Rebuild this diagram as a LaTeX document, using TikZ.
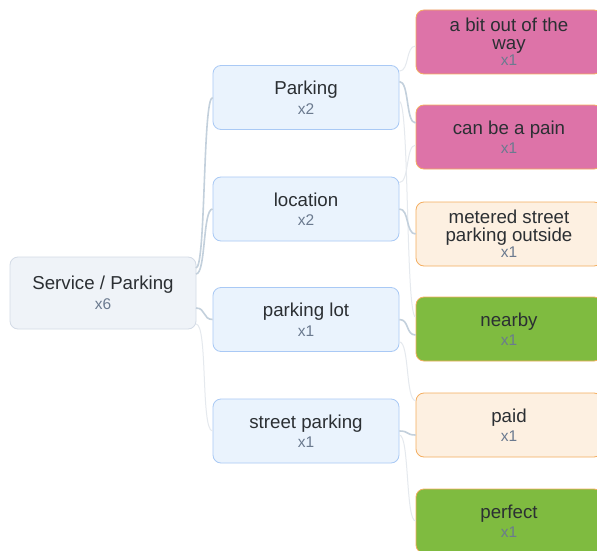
\documentclass[tikz,border=0pt]{standalone}
\usepackage{fontspec}
\setmainfont{Liberation Sans}
\definecolor{txt}{HTML}{2B2F33}
\definecolor{cnt}{HTML}{6B7A8F}
\definecolor{rootfill}{HTML}{EFF3F8}
\definecolor{rootline}{HTML}{D3DBE6}
\definecolor{midfill}{HTML}{EAF3FD}
\definecolor{midline}{HTML}{A9C9F5}
\definecolor{pinkfill}{HTML}{DD73A8}
\definecolor{creamfill}{HTML}{FDF0E1}
\definecolor{greenfill}{HTML}{7FBB40}
\definecolor{orangeline}{HTML}{F4AD5E}
\definecolor{linkdark}{HTML}{C3D0DC}
\definecolor{linkfaint}{HTML}{E5E9EE}
\newcommand{\lblfont}{\fontsize{18.7}{19.5}\selectfont}
\newcommand{\cnt}[1]{{\fontsize{15.5}{17}\selectfont\color{cnt}#1}}
\tikzset{
	box/.style={draw, rounded corners=8pt, minimum width=186pt, minimum height=64pt,
		align=center, inner sep=0pt, text=txt, font=\lblfont, line width=0.8pt},
	rootbox/.style={box, fill=rootfill, draw=rootline, minimum height=72pt},
	midbox/.style={box, fill=midfill, draw=midline},
	pinkbox/.style={box, fill=pinkfill, draw=orangeline},
	creambox/.style={box, fill=creamfill, draw=orangeline},
	greenbox/.style={box, fill=greenfill, draw=orangeline},
	link/.style={draw=linkdark, line width=1.6pt},
	faint/.style={draw=linkfaint, line width=1pt}
}
\begin{document}
\begin{tikzpicture}[x=1pt,y=-1pt]
		\clip (0,0) rectangle (597,551);
		\fill[white] (0,0) rectangle (597,551);
		% links
		\coordinate (r1) at (196,268);
		\coordinate (r2) at (196,274);
		\coordinate (r3) at (196,308);
		\coordinate (r4) at (196,324);
		\node[midbox] (parking) at (306,97.5) {Parking\\[0pt]\cnt{x2}};
		\node[midbox] (location) at (306,209) {location\\[0pt]\cnt{x2}};
		\node[midbox] (lot) at (306,319.5) {parking lot\\[0pt]\cnt{x1}};
		\node[midbox] (street) at (306,431) {street parking\\[0pt]\cnt{x1}};
		\node[pinkbox] (abit) at (509,42) {a bit out of the\\[-2pt]way\\[-3pt]\cnt{x1}};
		\node[pinkbox] (pain) at (509,137) {can be a pain\\[0pt]\cnt{x1}};
		\node[creambox] (metered) at (509,234) {metered street\\[-2pt]parking outside\\[-3pt]\cnt{x1}};
		\node[greenbox] (nearby) at (509,329) {nearby\\[0pt]\cnt{x1}};
		\node[creambox] (paid) at (509,425) {paid\\[0pt]\cnt{x1}};
		\node[greenbox] (perfect) at (509,521) {perfect\\[0pt]\cnt{x1}};
		\node[rootbox] (root) at (103,293) {Service / Parking\\[1pt]\cnt{x6}};
		\draw[faint] (r4) .. controls +(12,0) and +(-12,0) .. (street.west);
		\draw[link] (r1) .. controls +(10,0) and +(-10,0) .. (parking.west);
		\draw[link] (r2) .. controls +(10,0) and +(-10,0) .. (location.west);
		\draw[link] (r3) .. controls +(10,0) and +(-10,0) .. (lot.west);
		\draw[faint] ([yshift=-6pt]parking.north east) .. controls +(10,0) and +(-10,0) .. ([yshift=-4pt]abit.west);
		\draw[faint] ([yshift=-4pt]parking.east) .. controls +(10,0) and +(-10,0) .. ([yshift=12pt]nearby.west);
		\draw[faint] ([yshift=-6pt]location.north east) .. controls +(10,0) and +(-10,0) .. ([yshift=-8pt]pain.west);
		\draw[faint] ([yshift=10pt]lot.south east) .. controls +(10,0) and +(-10,0) .. ([yshift=-8pt]paid.north west);
		\draw[faint] ([yshift=-4pt]street.east) .. controls +(10,0) and +(-10,0) .. (perfect.west);
		\draw[link] ([yshift=16pt]parking.east) .. controls +(10,0) and +(-10,0) .. ([yshift=14pt]pain.west);
		\draw[link] (location.east) .. controls +(10,0) and +(-10,0) .. (metered.west);
		\draw[link] (lot.east) .. controls +(10,0) and +(-10,0) .. ([yshift=-6pt]nearby.west);
		\draw[link] (street.east) .. controls +(10,0) and +(-10,0) .. ([yshift=-10pt]paid.west);
	\end{tikzpicture}
\end{document}
